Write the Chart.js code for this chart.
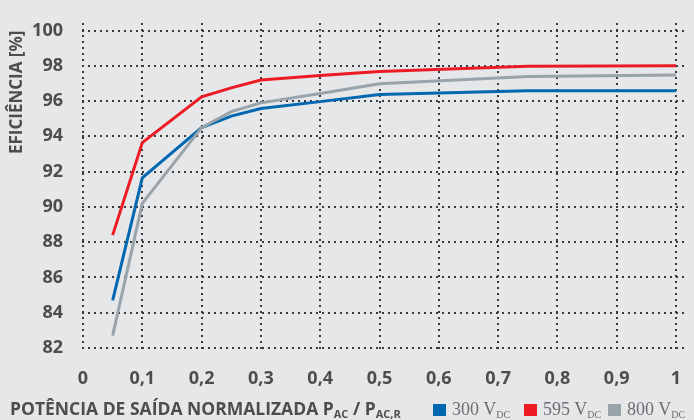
<!DOCTYPE html>
<html>
<head>
<meta charset="utf-8">
<script src="https://cdn.jsdelivr.net/npm/chart.js@4"></script>
<style>
  html, body { margin: 0; padding: 0; background: #e6e7e9; }
  #wrap { position: relative; width: 694px; height: 420px; }
  #bottom { position: absolute; left: 0; top: 398px; width: 694px; height: 22px; }
  #xtitle { position: absolute; left: 10px; top: 0; font: bold 17.5px "Open Sans", sans-serif; color: #4d4d4f; white-space: nowrap; line-height: 20px; }
  #xtitle sub { font-size: 11px; vertical-align: -3px; line-height: 0; }
  .leg { position: absolute; top: 0; font: 18px "Liberation Serif", serif; color: #6d6e71; white-space: nowrap; line-height: 22px; }
  .leg i { display: inline-block; width: 13px; height: 12px; margin-right: 6px; vertical-align: -1px; }
  .leg sub { font-size: 10px; vertical-align: -3px; line-height: 0; }
</style>
</head>
<body>
<div id="wrap">
  <canvas id="chart" width="694" height="420"></canvas>
  <div id="bottom">
    <div id="xtitle">POTÊNCIA DE SAÍDA NORMALIZADA P<sub>AC</sub> / P<sub>AC,R</sub></div>
    <div class="leg" style="left:433px"><i style="background:#0067b1"></i>300 V<sub>DC</sub></div>
    <div class="leg" style="left:524px"><i style="background:#ed1c24"></i>595 V<sub>DC</sub></div>
    <div class="leg" style="left:608px"><i style="background:#98a3aa"></i>800 V<sub>DC</sub></div>
  </div>
</div>
<script>
// potencia normalizada (eixo x)
const potencia = [0.05, 0.1, 0.2, 0.25, 0.3, 0.4, 0.5, 0.75, 1.0];
// eficiencia [%] por tensao DC
const ef300 = [84.7, 91.65, 94.5, 95.15, 95.58, 95.97, 96.37, 96.58, 96.58];
const ef595 = [88.4, 93.65, 96.24, 96.75, 97.2, 97.45, 97.68, 97.97, 98.0];
const ef800 = [82.7, 90.2, 94.5, 95.4, 95.9, 96.43, 96.98, 97.39, 97.48];
const seriesNames = ['300 VDC', '595 VDC', '800 VDC'];
const seriesColors = ['#0067b1', '#ed1c24', '#98a3aa'];
const yTitle = 'EFICIÊNCIA [%]';

const toPoints = (vals) => vals.map((v, i) => ({ x: potencia[i], y: v }));

// grade pontilhada (pontos 2x2 a cada 6px) + titulo do eixo y
const dottedGrid = {
    id: 'dottedGrid',
    beforeDatasetsDraw(chart) {
        const { ctx, chartArea: a, scales } = chart;
        ctx.save();
        ctx.fillStyle = '#3a3a3c';
        scales.x.ticks.forEach((t) => {
            const px = Math.round(scales.x.getPixelForValue(t.value));
            for (let y = Math.round(a.top); y <= a.bottom; y += 6) {
                ctx.fillRect(px - 1, y, 2, 2);
            }
        });
        scales.y.ticks.forEach((t) => {
            const py = Math.round(scales.y.getPixelForValue(t.value));
            for (let x = Math.round(a.left) - 1; x <= a.right; x += 6) {
                ctx.fillRect(x, py - 1, 2, 2);
            }
        });
        ctx.restore();
    },
    afterDraw(chart) {
        const { ctx } = chart;
        const top = chart.scales.y.getPixelForValue(100);
        ctx.save();
        ctx.translate(17, top);
        ctx.rotate(-Math.PI / 2);
        ctx.fillStyle = '#4d4d4f';
        ctx.font = 'bold 17px "Open Sans"';
        ctx.textAlign = 'right';
        ctx.textBaseline = 'middle';
        ctx.fillText(yTitle, 0, 0);
        ctx.restore();
    }
};

const ctx = document.getElementById('chart').getContext('2d');
const chart = new Chart(ctx, {
    type: 'line',
    data: {
        datasets: [ef800, ef300, ef595].map((vals, k) => {
            const idx = [2, 0, 1][k];
            return {
                label: seriesNames[idx],
                data: toPoints(vals),
                borderColor: seriesColors[idx],
                borderWidth: 3,
                pointRadius: 0,
                tension: 0,
                fill: false
            };
        })
    },
    options: {
        responsive: false,
        animation: false,
        layout: { padding: { left: 0, right: 11, top: 14, bottom: 0 } },
        plugins: {
            legend: { display: false },
            tooltip: { enabled: false }
        },
        scales: {
            x: {
                type: 'linear',
                min: 0,
                max: 1.0118,
                border: { display: false },
                grid: { display: false },
                ticks: {
                    stepSize: 0.1,
                    includeBounds: false,
                    padding: 12,
                    color: '#4d4d4f',
                    font: { family: 'Open Sans', size: 18, weight: 'bold' },
                    callback: (v) => String(Math.round(v * 10) / 10).replace('.', ',')
                },
                afterFit: (scale) => { scale.height = 72; }
            },
            y: {
                min: 82,
                max: 100.44,
                border: { display: false },
                grid: { display: false },
                ticks: {
                    stepSize: 2,
                    includeBounds: false,
                    padding: 12,
                    color: '#4d4d4f',
                    font: { family: 'Open Sans', size: 18, weight: 'bold' }
                },
                afterFit: (scale) => { scale.width = 83; }
            }
        }
    },
    plugins: [dottedGrid]
});
</script>
</body>
</html>
